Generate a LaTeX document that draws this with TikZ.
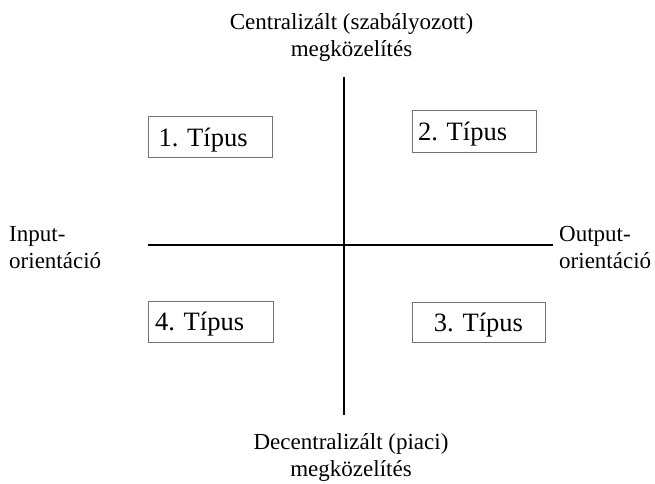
\documentclass[tikz,border=0pt]{standalone}
\usepackage{fontspec}
\setmainfont{Liberation Serif}
\frenchspacing
\begin{document}
\begin{tikzpicture}[x=1pt,y=-1pt,
  typebox/.style={draw=black!55,line width=1pt,inner ysep=0pt,align=left,text height=18pt,text depth=0pt,font=\fontsize{26.5}{30}\selectfont\frenchspacing},
  axis/.style={line width=2.8pt,black},
  lbl/.style={inner sep=0pt,font=\fontsize{23}{27}\selectfont}]
\useasboundingbox (0,0) rectangle (655,483);
\fill[white] (0,0) rectangle (655,483);
% axes
\coordinate (vt) at (344,77);
\coordinate (vb) at (344,415);
\coordinate (hl) at (148,245);
\coordinate (hr) at (553,245);
\draw[axis] (vt) -- (vb);
\draw[axis] (hl) -- (hr);
% boxes
\node[typebox,inner xsep=10pt,text width=104pt,minimum height=41pt] (t1) at (210.5,137) {1. Típus};
\node[typebox,inner xsep=6pt,text width=112pt,minimum height=42pt] (t2) at (474,131) {2. Típus};
\node[typebox,inner xsep=0pt,text width=133pt,align=center,minimum height=40pt] (t3) at (478.5,322) {3. Típus};
\node[typebox,inner xsep=7pt,text width=111pt,minimum height=41pt] (t4) at (210.5,321.5) {4. Típus};
% labels
\node[lbl,align=center] (top) at (351.5,37) {Centralizált (szabályozott)\\megközelítés};
\node[lbl,align=center] (bot) at (351,457.5) {Decentralizált (piaci)\\megközelítés};
\node[lbl,align=left,anchor=west] (inp) at (9,247.5) {Input-\\orientáció};
\node[lbl,align=left,anchor=west] (outp) at (559,247) {Output-\\orientáció};
\end{tikzpicture}
\end{document}
